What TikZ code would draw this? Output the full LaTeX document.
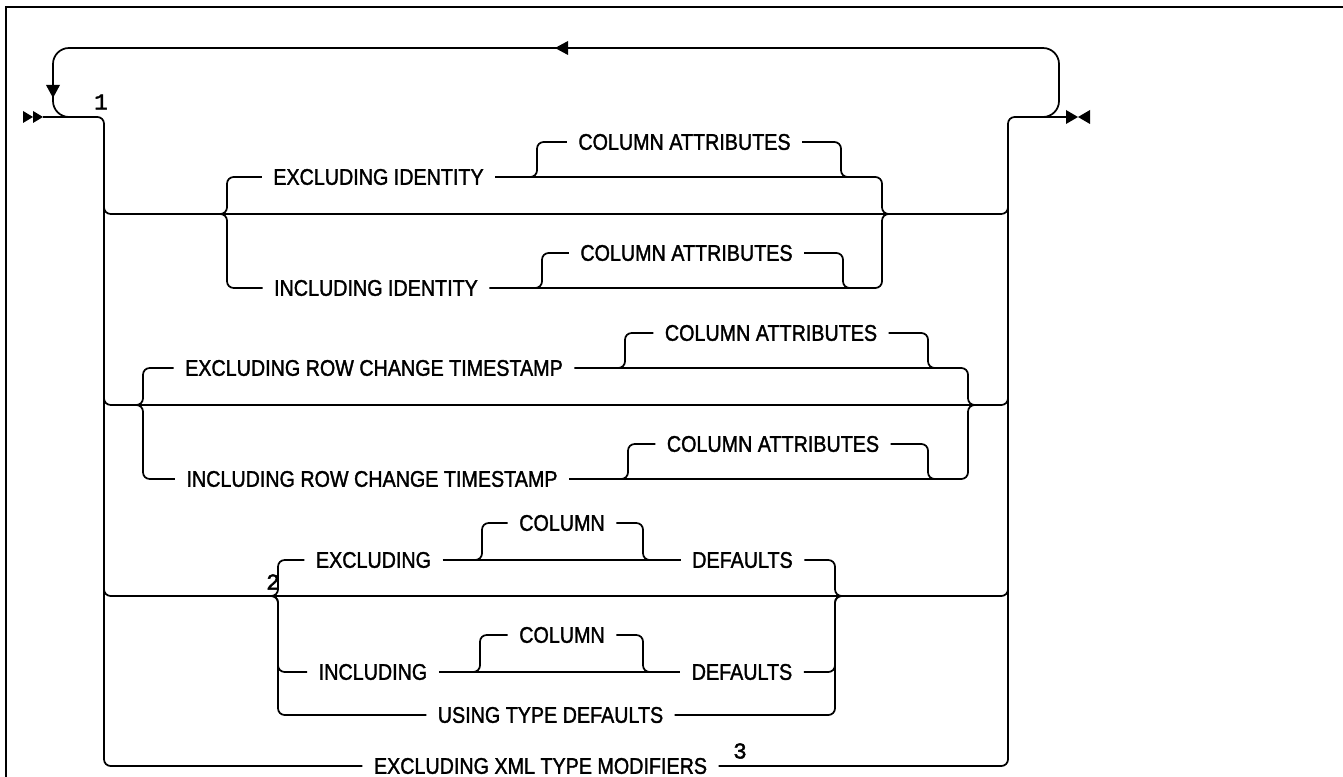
\documentclass[tikz,border=0pt]{standalone}
\usepackage{fontspec}
\setmainfont[FakeStretch=0.87,FakeBold=1.5]{Liberation Sans}
\newfontfamily\notefont[FakeBold=2]{Liberation Mono}
\begin{document}
\begin{tikzpicture}[x=0.75pt, y=-0.75pt, line width=1.3pt,
  every node/.style={font=\fontsize{17}{19}\selectfont, inner xsep=8pt, inner ysep=0pt},
  rail/.style={rounded corners=5pt},
  loopback/.style={rounded corners=12pt},
  note/.style={font=\notefont\fontsize{17}{18}\selectfont, inner sep=0pt}]
  \useasboundingbox (0,0) rectangle (1343,777);
  \draw[line width=2.2pt] (6,777) -- (6,7) -- (1343,7);

  % keywords
  \node (exid) at (378.5,177) {EXCLUDING IDENTITY};
  \node (exidca) at (684.5,142) {COLUMN ATTRIBUTES};
  \node (inid) at (376,288) {INCLUDING IDENTITY};
  \node (inidca) at (686.5,253) {COLUMN ATTRIBUTES};

  \node (exrct) at (374,368) {EXCLUDING ROW CHANGE TIMESTAMP};
  \node (exrctca) at (771,333) {COLUMN ATTRIBUTES};
  \node (inrct) at (372,479) {INCLUDING ROW CHANGE TIMESTAMP};
  \node (inrctca) at (773,444) {COLUMN ATTRIBUTES};

  \node (excl) at (373.5,560) {EXCLUDING};
  \node (exclcol) at (562,523) {COLUMN};
  \node (exdef) at (742.5,560) {DEFAULTS};
  \node (incl) at (373,672) {INCLUDING};
  \node (inclcol) at (562,635) {COLUMN};
  \node (indef) at (742,672) {DEFAULTS};
  \node (using) at (550.5,715) {USING TYPE DEFAULTS};

  \node (xml) at (540.5,766) {EXCLUDING XML TYPE MODIFIERS};

  \node[note] (n1) at (101,102) {1};
  \node[note] (n2) at (273,582) {2};
  \node[note] (n3) at (740,751) {3};

  % start, end and repeat
  \fill (23,111) -- (33,117) -- (23,123) -- cycle;
  \fill (33,111) -- (43,117) -- (33,123) -- cycle;
  \fill (1066,110) -- (1078,117) -- (1066,124) -- cycle;
  \fill (1090,110) -- (1078,117) -- (1090,124) -- cycle;
  \draw[loopback] (1043,117) -| (1059,48) -| (53,117) -- (70,117);
  \fill (555,48) -- (568,41) -- (568,55) -- cycle;
  \fill (53,98) -- (46,85) -- (60,85) -- cycle;

  % main choice
  \draw[rail] (43,117) -| (104,766) -- (xml.west);
  \draw[rail] (xml.east) -| (1008,117) -- (1067,117);
  \draw[rail] (104,200) |- (600,214) -| (1008,200);
  \draw[rail] (104,390) |- (600,405) -| (1008,390);
  \draw[rail] (104,580) |- (600,596) -| (1008,580);

  % identity
  \draw[rail] (219,214) -| (227,177) -- (exid.west);
  \draw[rail] (219,214) -| (227,288) -- (inid.west);
  \draw[rail] (exid.east) -| (882,214) -- (890,214);
  \draw[rail] (inid.east) -| (882,214) -- (890,214);
  \draw[rail] (527,177) -| (537,142) -- (exidca.west);
  \draw[rail] (exidca.east) -| (841,177) -- (851,177);
  \draw[rail] (532,288) -| (542,253) -- (inidca.west);
  \draw[rail] (inidca.east) -| (843,288) -- (853,288);

  % row change timestamp
  \draw[rail] (135,405) -| (143,368) -- (exrct.west);
  \draw[rail] (135,405) -| (143,479) -- (inrct.west);
  \draw[rail] (exrct.east) -| (968,405) -- (976,405);
  \draw[rail] (inrct.east) -| (968,405) -- (976,405);
  \draw[rail] (615,368) -| (625,333) -- (exrctca.west);
  \draw[rail] (exrctca.east) -| (928,368) -- (938,368);
  \draw[rail] (618,479) -| (628,444) -- (inrctca.west);
  \draw[rail] (inrctca.east) -| (928,479) -- (938,479);

  % defaults
  \draw[rail] (270,596) -| (278,560) -- (excl.west);
  \draw[rail] (270,596) -| (278,672) -- (incl.west);
  \draw[rail] (270,596) -| (278,715) -- (using.west);
  \draw[rail] (excl.east) -- (exdef.west);
  \draw[rail] (incl.east) -- (indef.west);
  \draw[rail] (472,560) -| (482,523) -- (exclcol.west);
  \draw[rail] (exclcol.east) -| (643,560) -- (653,560);
  \draw[rail] (470,672) -| (480,635) -- (inclcol.west);
  \draw[rail] (inclcol.east) -| (643,672) -- (653,672);
  \draw[rail] (exdef.east) -| (835,596) -- (843,596);
  \draw[rail] (indef.east) -| (835,596) -- (843,596);
  \draw[rail] (using.east) -| (835,596) -- (843,596);
\end{tikzpicture}
\end{document}
